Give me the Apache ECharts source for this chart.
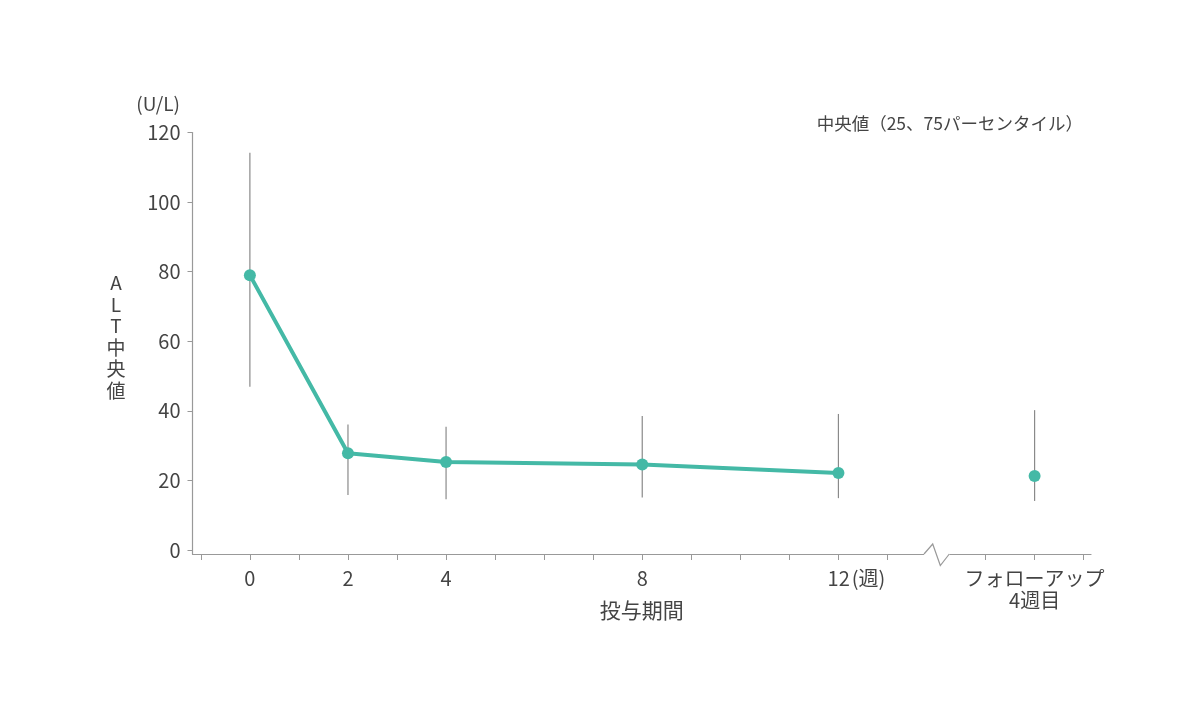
<!DOCTYPE html>
<html>
<head>
<meta charset="utf-8">
<script src="https://cdn.jsdelivr.net/npm/echarts@6/dist/echarts.min.js"></script>
<style>
  html, body { margin: 0; padding: 0; background: #fff; }
  #chart { width: 1200px; height: 713px; }
</style>
</head>
<body>
<div id="chart"></div>
<script>
// 投与期間（週）と ALT 中央値・25/75パーセンタイル
const weeks = [0, 2, 4, 8, 12]
const medians = [79.0, 27.8, 25.3, 24.6, 22.1]
const q25 = [46.9, 15.8, 14.6, 15.1, 14.9]
const q75 = [114.2, 36.1, 35.4, 38.5, 39.1]

// フォローアップ4週目（横軸上は16週の位置に置く）
const fuWeek = 16
const fuMedian = 21.3
const fuQ25 = 14.1
const fuQ75 = 40.2

const xTickValues = [-1, 0, 1, 2, 3, 4, 5, 6, 7, 8, 9, 10, 11, 12, 13, 15, 16, 17]
const xLabelValues = [0, 2, 4, 8, 12, 16]
const xLabelText = { 0: '0', 2: '2', 4: '4', 8: '8', 12: '{p|}12{w|(週)}', 16: 'フォローアップ\n4週目' }
const yTickValues = [0, 20, 40, 60, 80, 100, 120]
const breakAt = 14

const FONT = "'Noto Sans CJK JP', 'Noto Sans', sans-serif"
const TEXT = '#444'
const TEAL = '#44b9a6'
const AXIS = '#999'

const lineData = weeks.map((w, i) => [w, medians[i]])
const barData = weeks.map((w, i) => [w, q25[i], q75[i]]).concat([[fuWeek, fuQ25, fuQ75]])

const myEcharts = echarts.init(document.getElementById('chart'))

const option = {
  animation: false,
  textStyle: { fontFamily: FONT },
  title: {
    text: '中央値（25、75パーセンタイル）',
    right: 112,
    top: 110,
    textStyle: { fontFamily: FONT, fontSize: 17.5, fontWeight: 'normal', color: TEXT }
  },
  grid: { left: 192.5, right: 109, top: 132.5, bottom: 159 },
  xAxis: {
    type: 'value',
    min: -1.17,
    max: 17.15,
    name: '投与期間',
    nameLocation: 'middle',
    nameGap: 46,
    nameMoveOverlap: false,
    nameTextStyle: { fontFamily: FONT, fontSize: 21, color: TEXT },
    axisLine: { onZero: false, lineStyle: { color: AXIS, width: 1.2 } },
    axisTick: { show: true, length: 6, customValues: xTickValues, lineStyle: { color: AXIS } },
    axisLabel: {
      customValues: xLabelValues,
      margin: 13,
      fontSize: 20,
      lineHeight: 22,
      color: TEXT,
      fontFamily: FONT,
      formatter: v => xLabelText[v] || '',
      rich: {
        p: { width: 36 },
        w: { fontSize: 20, color: TEXT, fontFamily: FONT, padding: [0, 0, 0, 2] }
      }
    },
    splitLine: { show: false }
  },
  yAxis: {
    type: 'value',
    min: -1.15,
    max: 120,
    axisLine: { show: true, onZero: false, lineStyle: { color: AXIS, width: 1.2 } },
    axisTick: { show: true, length: 5, customValues: yTickValues, lineStyle: { color: AXIS } },
    axisLabel: { customValues: yTickValues, margin: 12, fontSize: 20, color: TEXT, fontFamily: FONT },
    splitLine: { show: false }
  },
  series: [
    {
      // 25-75パーセンタイルの縦線
      type: 'custom',
      z: 1,
      silent: true,
      data: barData,
      renderItem(params, api) {
        const low = api.coord([api.value(0), api.value(1)])
        const high = api.coord([api.value(0), api.value(2)])
        return {
          type: 'line',
          shape: { x1: low[0], y1: low[1], x2: high[0], y2: high[1] },
          style: { stroke: '#8a8a8a', lineWidth: 1.2 }
        }
      }
    },
    {
      type: 'line',
      z: 3,
      data: lineData,
      symbol: 'circle',
      symbolSize: 12,
      lineStyle: { color: TEAL, width: 4 },
      itemStyle: { color: TEAL }
    },
    {
      type: 'scatter',
      z: 3,
      data: [[fuWeek, fuMedian]],
      symbol: 'circle',
      symbolSize: 12,
      itemStyle: { color: TEAL, opacity: 1 }
    }
  ]
}

myEcharts.setOption(option)

// 横軸の省略記号（波線）と軸タイトル
function drawExtras() {
  const p = myEcharts.convertToPixel({ gridIndex: 0 }, [breakAt, -1.15])
  const x = p[0], y = p[1]
  myEcharts.setOption({
    graphic: [
      {
        type: 'rect',
        z: 10,
        shape: { x: x - 12.5, y: y - 2, width: 25.5, height: 4 },
        style: { fill: '#fff' }
      },
      {
        type: 'polyline',
        z: 11,
        shape: { points: [[x - 12.5, y], [x - 3.8, y - 10], [x + 3.8, y + 11.5], [x + 12.8, y]] },
        style: { stroke: AXIS, lineWidth: 1.2, fill: null }
      },
      {
        type: 'text',
        z: 11,
        x: 180,
        y: 104,
        style: {
          text: '(U/L)',
          fontFamily: FONT,
          fontSize: 19,
          fill: TEXT,
          align: 'right',
          verticalAlign: 'middle'
        }
      },
      {
        type: 'text',
        z: 11,
        x: 116,
        y: 337,
        style: {
          text: 'A\nL\nT\n中\n央\n値',
          fontFamily: FONT,
          fontSize: 19,
          lineHeight: 21.5,
          fill: TEXT,
          align: 'center',
          verticalAlign: 'middle'
        }
      }
    ]
  })
}
drawExtras()
</script>
</body>
</html>
